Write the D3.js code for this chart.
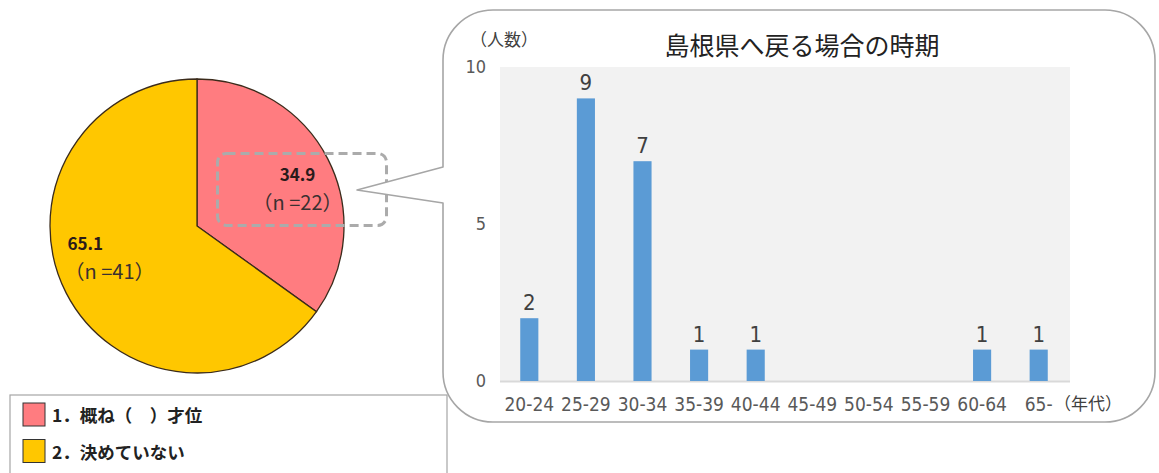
<html>
<head>
<meta charset="utf-8">
<style type="text/css">
  body { margin: 0; background: #fff; }
  .jp { font-family: "Noto Sans CJK JP", "Noto Sans", sans-serif; }
  .num { font-family: "Liberation Sans Narrow", "DejaVu Sans Condensed", "Roboto", sans-serif; }
</style>
</head>
<body>
<svg id="viewport" width="1159" height="473"></svg>
<script src="https://cdn.jsdelivr.net/npm/d3@7/dist/d3.min.js"></script>
<script>
  // DATA
  var pieLabels = ["1．概ね（　）才位", "2．決めていない"];
  var piePct = [34.9, 65.1];
  var pieN = [22, 41];
  var pieColors = ["#ff7c80", "#ffc700"];

  var ageGroups = ["20-24", "25-29", "30-34", "35-39", "40-44", "45-49", "50-54", "55-59", "60-64", "65-"];
  var counts = [2, 9, 7, 1, 1, 0, 0, 0, 1, 1];
  var yTicks = [0, 5, 10];

  var chartTitle = "島根県へ戻る場合の時期";
  var yUnit = "（人数）";
  var xUnit = "（年代）";

  var svg = d3.select("svg");

  // ---- pie ----
  var cx = 197, cy = 226, radius = 147;
  var pieG = svg.append("g").attr("transform", "translate(" + cx + "," + cy + ")");

  var pie = d3.pie().sort(null).value(function(d) { return d; });
  var arcs = pie(piePct);
  var arc = d3.arc().innerRadius(0).outerRadius(radius);

  pieG.selectAll("path")
    .data(arcs)
    .enter()
    .append("path")
    .attr("d", arc)
    .attr("fill", function(d, i) { return pieColors[i]; })
    .attr("stroke", "#3b2b1b")
    .attr("stroke-width", 1.3);

  // label positions from centroids
  var labelRadius = [113, 95];
  var cents = arcs.map(function(d, i) {
    return d3.arc().innerRadius(labelRadius[i]).outerRadius(labelRadius[i]).centroid(d);
  });

  // dashed box around the first slice label
  pieG.append("rect")
    .attr("x", cents[0][0] - 80)
    .attr("y", cents[0][1] - 21)
    .attr("width", 169)
    .attr("height", 72)
    .attr("rx", 9)
    .attr("fill", "none")
    .attr("stroke", "#ababab")
    .attr("stroke-width", 3)
    .attr("stroke-dasharray", "9,5");

  arcs.forEach(function(d, i) {
    var c = cents[i];
    var anchor = i == 0 ? "middle" : "start";
    var x = i == 0 ? c[0] : c[0] - 45;
    var y0 = i == 0 ? c[1] + 7 : c[1] - 19;
    pieG.append("text")
      .attr("class", "jp")
      .attr("x", x).attr("y", y0)
      .attr("text-anchor", anchor)
      .attr("font-size", 17)
      .attr("font-weight", "bold")
      .attr("fill", "#2a1a1a")
      .text(piePct[i].toFixed(1));
    pieG.append("text")
      .attr("class", "jp")
      .attr("x", i == 0 ? x : x - 3).attr("y", y0 + 29)
      .attr("text-anchor", anchor)
      .attr("font-size", 20)
      .attr("fill", "#3a3030")
      .text("（n =" + pieN[i] + "）");
  });

  // ---- legend ----
  var legend = svg.append("g");
  legend.append("rect")
    .attr("x", 10).attr("y", 395)
    .attr("width", 437).attr("height", 100)
    .attr("fill", "#fff")
    .attr("stroke", "#a6a6a6")
    .attr("stroke-width", 1.2);

  var item = legend.selectAll("g.item")
    .data(pieLabels)
    .enter()
    .append("g")
    .attr("class", "item")
    .attr("transform", function(d, i) { return "translate(23," + (403 + i * 36.5) + ")"; });

  item.append("rect")
    .attr("width", 22).attr("height", 23)
    .attr("fill", function(d, i) { return pieColors[i]; })
    .attr("stroke", "#333")
    .attr("stroke-width", 1);

  item.append("text")
    .attr("class", "jp")
    .attr("x", 29).attr("y", 19)
    .attr("font-size", 17.5)
    .attr("font-weight", "bold")
    .attr("fill", "#222")
    .text(function(d) { return d; });

  // ---- callout panel ----
  var pL = 443, pT = 10, pR = 1155, pB = 422, r = 50;
  var tipX = 357, tipY = 190, gapTop = 167, gapBot = 203;
  var p = d3.path();
  p.moveTo(pL, gapBot);
  p.lineTo(tipX, tipY);
  p.lineTo(pL, gapTop);
  p.lineTo(pL, pT + r);
  p.arcTo(pL, pT, pL + r, pT, r);
  p.lineTo(pR - r, pT);
  p.arcTo(pR, pT, pR, pT + r, r);
  p.lineTo(pR, pB - r);
  p.arcTo(pR, pB, pR - r, pB, r);
  p.lineTo(pL + r, pB);
  p.arcTo(pL, pB, pL, pB - r, r);
  p.closePath();

  svg.append("path")
    .attr("d", p.toString())
    .attr("fill", "#fff")
    .attr("stroke", "#a6a6a6")
    .attr("stroke-width", 1.6)
    .attr("stroke-linejoin", "round");

  // ---- bar chart ----
  var x = d3.scaleBand()
    .domain(ageGroups)
    .range([501, 1067])
    .paddingInner(0.68)
    .paddingOuter(0.34);

  var y = d3.scaleLinear()
    .domain([0, 10])
    .range([381, 67]);

  var chart = svg.append("g");

  chart.append("rect")
    .attr("x", 500).attr("y", y(10))
    .attr("width", 570).attr("height", y(0) - y(10))
    .attr("fill", "#f2f2f2");

  chart.append("line")
    .attr("x1", 500).attr("x2", 1070)
    .attr("y1", y(0) + 0.5).attr("y2", y(0) + 0.5)
    .attr("stroke", "#d9d9d9")
    .attr("stroke-width", 2);

  chart.selectAll("rect.bar")
    .data(counts)
    .enter()
    .append("rect")
    .attr("class", "bar")
    .attr("x", function(d, i) { return x(ageGroups[i]); })
    .attr("y", function(d) { return y(d); })
    .attr("width", x.bandwidth())
    .attr("height", function(d) { return y(0) - y(d); })
    .attr("fill", "#5b9bd5");

  chart.selectAll("text.val")
    .data(counts)
    .enter()
    .append("text")
    .attr("class", "val num")
    .attr("x", function(d, i) { return x(ageGroups[i]) + x.bandwidth() / 2; })
    .attr("y", function(d) { return y(d) - 8; })
    .attr("text-anchor", "middle")
    .attr("font-size", 22)
    .attr("fill", "#404040")
    .text(function(d) { return d > 0 ? d : ""; });

  // y axis labels
  var yAxis = d3.axisLeft(y).tickValues(yTicks).tickSize(0).tickPadding(0);
  var yg = chart.append("g")
    .attr("transform", "translate(486,0)")
    .call(yAxis);
  yg.select(".domain").remove();
  yg.selectAll("text")
    .attr("class", "num")
    .attr("font-size", 18)
    .attr("fill", "#595959");

  // x axis labels
  var xAxis = d3.axisBottom(x).tickSize(0).tickPadding(0);
  var xg = chart.append("g")
    .attr("transform", "translate(0," + y(0) + ")")
    .call(xAxis);
  xg.select(".domain").remove();
  xg.selectAll("text")
    .attr("class", "num")
    .attr("dy", null)
    .attr("y", 30)
    .attr("font-size", 19)
    .attr("fill", "#595959");

  chart.append("text")
    .attr("class", "jp")
    .attr("x", 1054).attr("y", 410)
    .attr("font-size", 17)
    .attr("fill", "#404040")
    .text(xUnit);

  chart.append("text")
    .attr("class", "jp")
    .attr("x", 470).attr("y", 46)
    .attr("font-size", 17)
    .attr("fill", "#404040")
    .text(yUnit);

  chart.append("text")
    .attr("class", "jp")
    .attr("x", 802).attr("y", 55)
    .attr("text-anchor", "middle")
    .attr("font-size", 25)
    .attr("fill", "#222")
    .text(chartTitle);
</script>
</body>
</html>
